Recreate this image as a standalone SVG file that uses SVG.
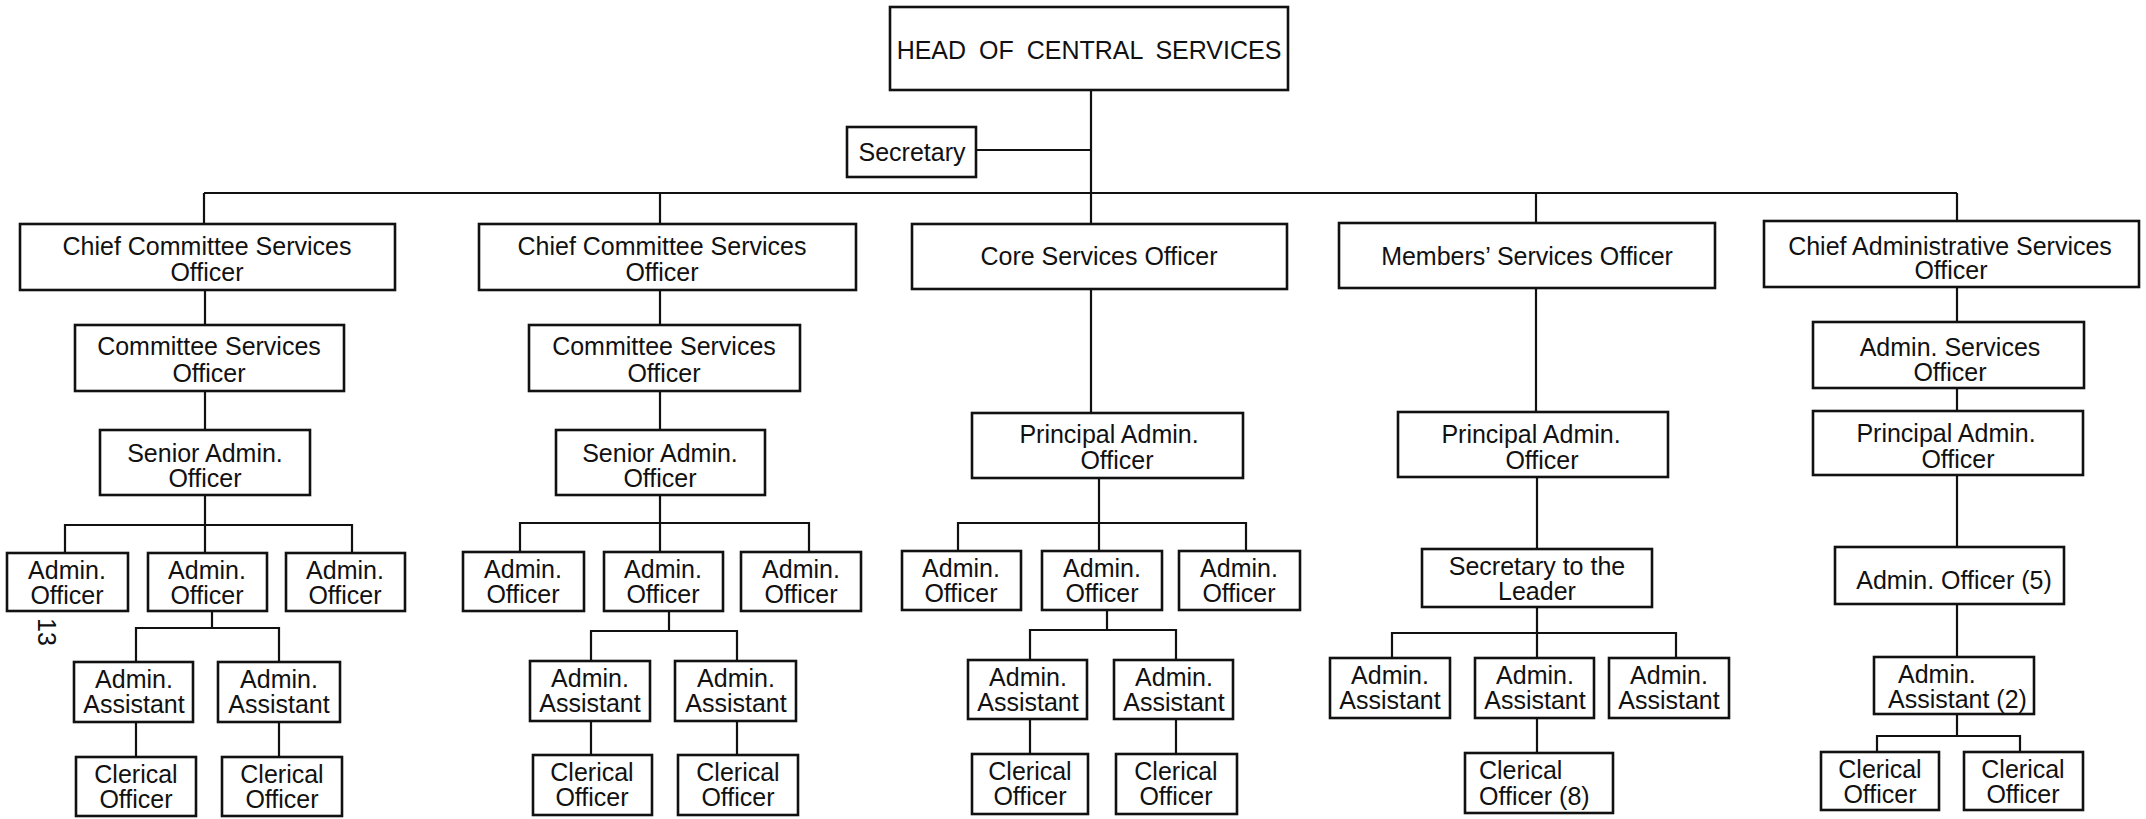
<svg xmlns="http://www.w3.org/2000/svg" width="2146" height="819" viewBox="0 0 2146 819">
<style>
.b{fill:#fff;stroke:#111;stroke-width:2.6}
.c{fill:none;stroke:#111;stroke-width:2.2}
text{font-family:"Liberation Sans",Arial,sans-serif;font-size:25px;fill:#111;text-anchor:middle}
.s{font-size:25px}
.l{text-anchor:start}
</style>
<rect width="2146" height="819" fill="#fff"/>
<g id="connectors" class="c">
<path d="M1091 90V224M976 150H1091M204 193H1957M204 193V224M660 193V224M1536 193V223M1957 193V221"/>
<path d="M205 290V325M205 391V430M205 495V553M65 553V525H352V553"/>
<path d="M212 611V628M136 662V628H279V662M136 722V757M279 722V757"/>
<path d="M660 290V325M660 391V430M660 495V552M520 552V523H809V552"/>
<path d="M669 611V631M591 661V631H737V661M591 721V755M737 721V755"/>
<path d="M1091 289V413M1099 478V551M958 551V523H1246V551"/>
<path d="M1107 610V630M1030 660V630H1176V660M1030 719V754M1176 719V754"/>
<path d="M1536 288V412M1537 477V549M1537 607V658M1392 658V633H1676V658M1537 718V753"/>
<path d="M1957 287V322M1957 388V411M1957 475V547M1957 604V657M1957 714V736M1877 752V736H2020V752"/>
</g>
<g id="head"><rect class="b" x="890" y="7" width="398" height="83"/><text x="1089" y="59" font-size="25" word-spacing="6">HEAD OF CENTRAL SERVICES</text></g>
<g id="secretary"><rect class="b" x="847" y="127" width="129" height="50"/><text x="912" y="161">Secretary</text></g>
<g id="ccso1"><rect class="b" x="20" y="224" width="375" height="66"/><text x="207" y="255">Chief Committee Services</text><text x="207" y="281">Officer</text></g>
<g id="ccso2"><rect class="b" x="479" y="224" width="377" height="66"/><text x="662" y="255">Chief Committee Services</text><text x="662" y="281">Officer</text></g>
<g id="core"><rect class="b" x="912" y="224" width="375" height="65"/><text x="1099" y="265">Core Services Officer</text></g>
<g id="members"><rect class="b" x="1339" y="223" width="376" height="65"/><text x="1527" y="265">Members’ Services Officer</text></g>
<g id="chiefadmin"><rect class="b" x="1764" y="221" width="375" height="66"/><text x="1950" y="255">Chief Administrative Services</text><text x="1951" y="279">Officer</text></g>
<g id="cso1"><rect class="b" x="75" y="325" width="269" height="66"/><text x="209" y="355">Committee Services</text><text x="209" y="382">Officer</text></g>
<g id="cso2"><rect class="b" x="529" y="325" width="271" height="66"/><text x="664" y="355">Committee Services</text><text x="664" y="382">Officer</text></g>
<g id="aso"><rect class="b" x="1813" y="322" width="271" height="66"/><text x="1950" y="356">Admin. Services</text><text x="1950" y="381">Officer</text></g>
<g id="sao1"><rect class="b" x="100" y="430" width="210" height="65"/><text x="205" y="462">Senior Admin.</text><text x="205" y="487">Officer</text></g>
<g id="sao2"><rect class="b" x="556" y="430" width="209" height="65"/><text x="660" y="462">Senior Admin.</text><text x="660" y="487">Officer</text></g>
<g id="pao3"><rect class="b" x="972" y="413" width="271" height="65"/><text x="1109" y="443">Principal Admin.</text><text x="1117" y="469">Officer</text></g>
<g id="pao4"><rect class="b" x="1398" y="412" width="270" height="65"/><text x="1531" y="443">Principal Admin.</text><text x="1542" y="469">Officer</text></g>
<g id="pao5"><rect class="b" x="1813" y="411" width="270" height="64"/><text x="1946" y="442">Principal Admin.</text><text x="1958" y="468">Officer</text></g>
<g id="ao1a"><rect class="b" x="7" y="553" width="121" height="58"/><text class="s" x="67" y="579">Admin.</text><text class="s" x="67" y="604">Officer</text></g>
<g id="ao1b"><rect class="b" x="148" y="553" width="119" height="58"/><text class="s" x="207" y="579">Admin.</text><text class="s" x="207" y="604">Officer</text></g>
<g id="ao1c"><rect class="b" x="286" y="553" width="119" height="58"/><text class="s" x="345" y="579">Admin.</text><text class="s" x="345" y="604">Officer</text></g>
<g id="ao2a"><rect class="b" x="463" y="552" width="121" height="59"/><text class="s" x="523" y="578">Admin.</text><text class="s" x="523" y="603">Officer</text></g>
<g id="ao2b"><rect class="b" x="604" y="552" width="119" height="59"/><text class="s" x="663" y="578">Admin.</text><text class="s" x="663" y="603">Officer</text></g>
<g id="ao2c"><rect class="b" x="741" y="552" width="120" height="59"/><text class="s" x="801" y="578">Admin.</text><text class="s" x="801" y="603">Officer</text></g>
<g id="ao3a"><rect class="b" x="902" y="551" width="119" height="59"/><text class="s" x="961" y="577">Admin.</text><text class="s" x="961" y="602">Officer</text></g>
<g id="ao3b"><rect class="b" x="1042" y="551" width="120" height="59"/><text class="s" x="1102" y="577">Admin.</text><text class="s" x="1102" y="602">Officer</text></g>
<g id="ao3c"><rect class="b" x="1179" y="551" width="121" height="59"/><text class="s" x="1239" y="577">Admin.</text><text class="s" x="1239" y="602">Officer</text></g>
<g id="stl"><rect class="b" x="1422" y="549" width="230" height="58"/><text x="1537" y="575" font-size="26">Secretary to the</text><text x="1537" y="600" font-size="26">Leader</text></g>
<g id="ao5"><rect class="b" x="1835" y="547" width="229" height="57"/><text x="1954" y="589" font-size="26">Admin. Officer (5)</text></g>
<g id="aa1a"><rect class="b" x="74" y="662" width="119" height="60"/><text class="s" x="134" y="688">Admin.</text><text class="s" x="134" y="713">Assistant</text></g>
<g id="aa1b"><rect class="b" x="218" y="662" width="122" height="60"/><text class="s" x="279" y="688">Admin.</text><text class="s" x="279" y="713">Assistant</text></g>
<g id="aa2a"><rect class="b" x="530" y="661" width="120" height="60"/><text class="s" x="590" y="687">Admin.</text><text class="s" x="590" y="712">Assistant</text></g>
<g id="aa2b"><rect class="b" x="675" y="661" width="121" height="60"/><text class="s" x="736" y="687">Admin.</text><text class="s" x="736" y="712">Assistant</text></g>
<g id="aa3a"><rect class="b" x="968" y="660" width="119" height="59"/><text class="s" x="1028" y="686">Admin.</text><text class="s" x="1028" y="711">Assistant</text></g>
<g id="aa3b"><rect class="b" x="1114" y="660" width="119" height="59"/><text class="s" x="1174" y="686">Admin.</text><text class="s" x="1174" y="711">Assistant</text></g>
<g id="aa4a"><rect class="b" x="1330" y="658" width="120" height="60"/><text class="s" x="1390" y="684">Admin.</text><text class="s" x="1390" y="709">Assistant</text></g>
<g id="aa4b"><rect class="b" x="1475" y="658" width="119" height="60"/><text class="s" x="1535" y="684">Admin.</text><text class="s" x="1535" y="709">Assistant</text></g>
<g id="aa4c"><rect class="b" x="1609" y="658" width="120" height="60"/><text class="s" x="1669" y="684">Admin.</text><text class="s" x="1669" y="709">Assistant</text></g>
<g id="aa5"><rect class="b" x="1874" y="657" width="160" height="57"/><text class="s l" x="1898" y="683">Admin.</text><text class="s l" x="1888" y="708">Assistant (2)</text></g>
<g id="co1a"><rect class="b" x="76" y="757" width="120" height="59"/><text class="s" x="136" y="783">Clerical</text><text class="s" x="136" y="808">Officer</text></g>
<g id="co1b"><rect class="b" x="222" y="757" width="120" height="59"/><text class="s" x="282" y="783">Clerical</text><text class="s" x="282" y="808">Officer</text></g>
<g id="co2a"><rect class="b" x="533" y="755" width="119" height="60"/><text class="s" x="592" y="781">Clerical</text><text class="s" x="592" y="806">Officer</text></g>
<g id="co2b"><rect class="b" x="678" y="755" width="120" height="60"/><text class="s" x="738" y="781">Clerical</text><text class="s" x="738" y="806">Officer</text></g>
<g id="co3a"><rect class="b" x="972" y="754" width="116" height="60"/><text class="s" x="1030" y="780">Clerical</text><text class="s" x="1030" y="805">Officer</text></g>
<g id="co3b"><rect class="b" x="1116" y="754" width="121" height="60"/><text class="s" x="1176" y="780">Clerical</text><text class="s" x="1176" y="805">Officer</text></g>
<g id="co4"><rect class="b" x="1465" y="753" width="148" height="60"/><text class="s l" x="1479" y="779">Clerical</text><text class="s l" x="1479" y="805">Officer (8)</text></g>
<g id="co5a"><rect class="b" x="1821" y="752" width="118" height="58"/><text class="s" x="1880" y="778">Clerical</text><text class="s" x="1880" y="803">Officer</text></g>
<g id="co5b"><rect class="b" x="1964" y="752" width="119" height="58"/><text class="s" x="2023" y="778">Clerical</text><text class="s" x="2023" y="803">Officer</text></g>
<text x="0" y="0" font-size="17" transform="translate(38 632) rotate(90)">13</text>
</svg>
